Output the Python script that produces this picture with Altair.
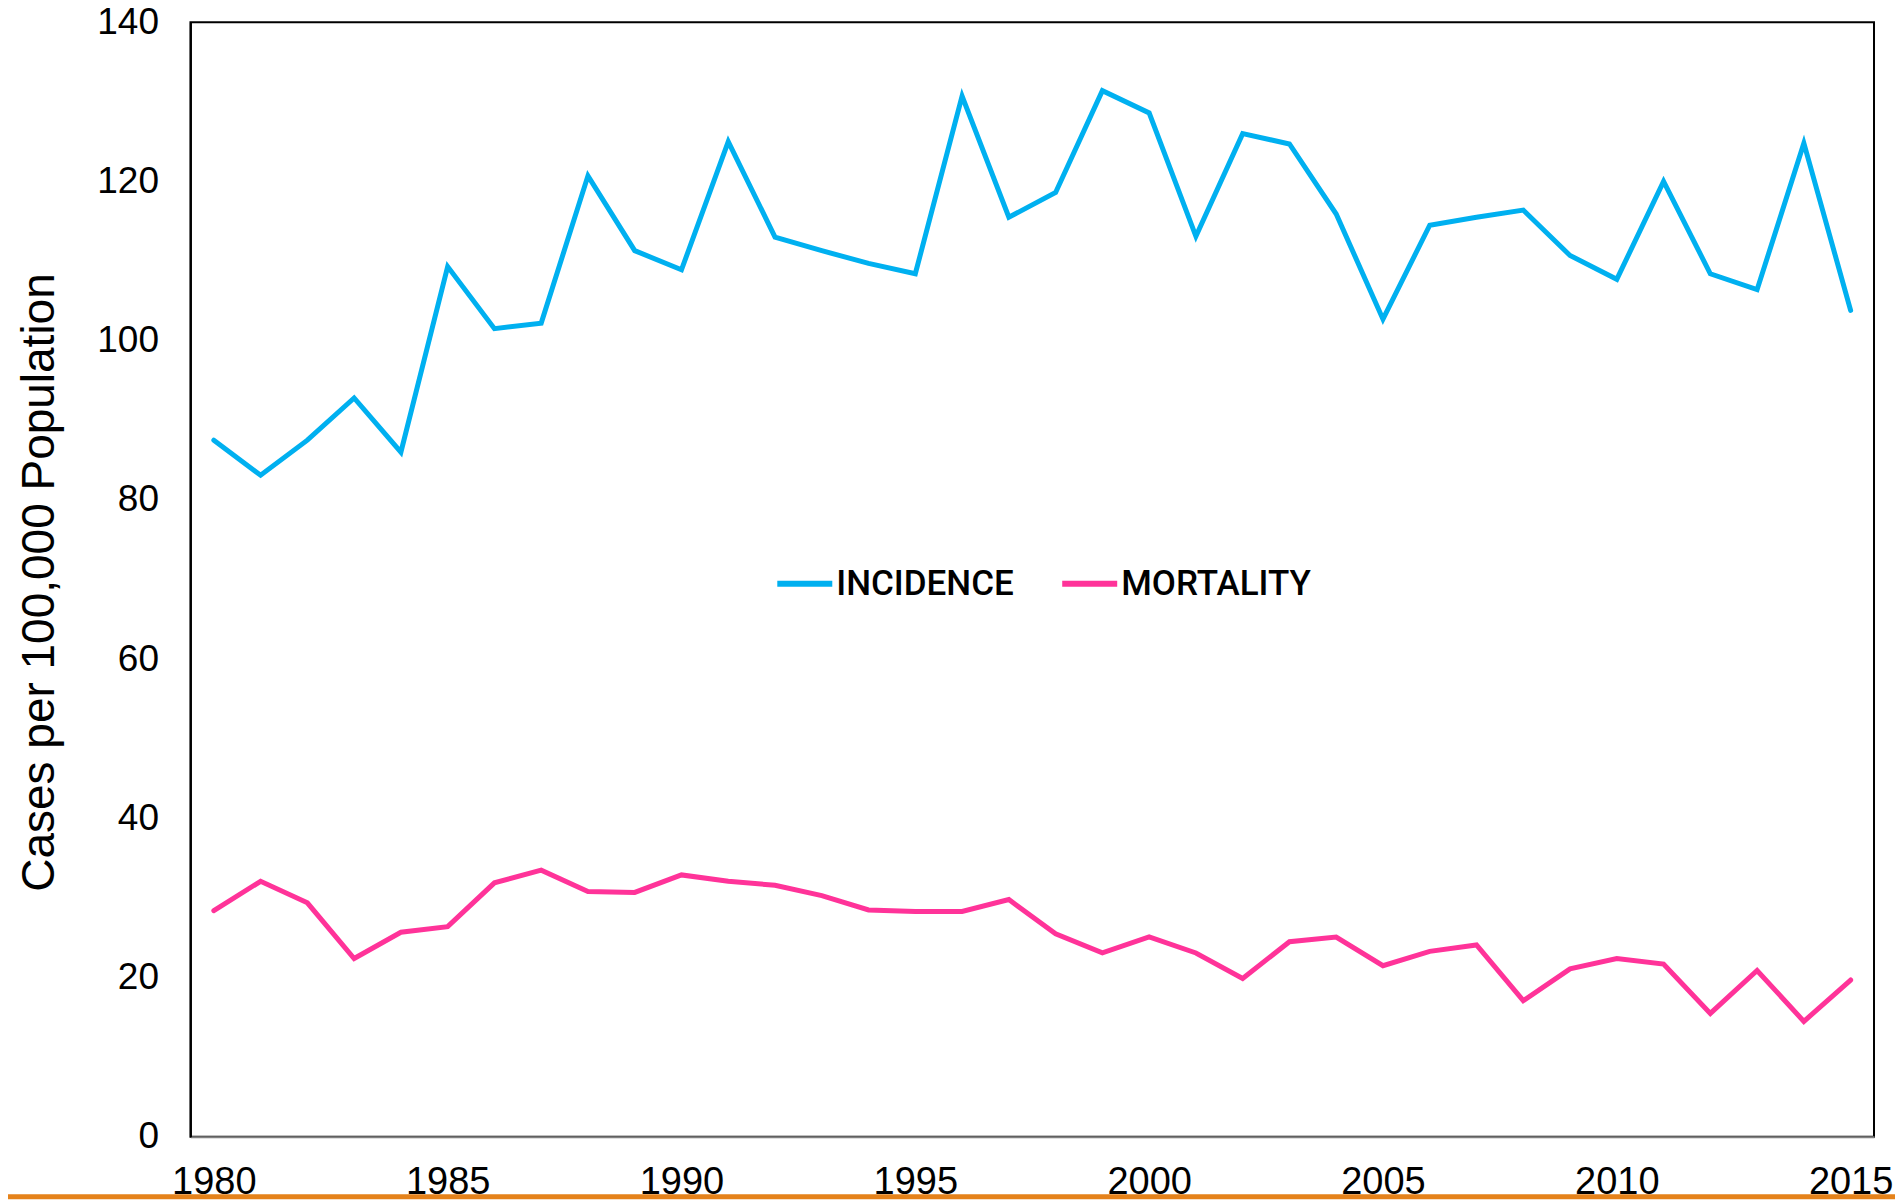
import altair as alt
import pandas as pd

years = list(range(1980, 2016))
incidence = [87.5, 83.1, 87.5, 92.8, 86.0, 109.3, 101.5, 102.2, 120.7, 111.3,
             108.9, 125.0, 113.0, 111.3, 109.7, 108.4, 130.7, 115.5, 118.6, 131.4,
             128.6, 113.1, 126.0, 124.7, 115.9, 102.7, 114.5, 115.5, 116.4, 110.7,
             107.7, 120.0, 108.4, 106.4, 124.8, 103.8]
mortality = [28.4, 32.1, 29.4, 22.4, 25.7, 26.4, 31.9, 33.5, 30.8, 30.7,
             32.9, 32.1, 31.6, 30.3, 28.5, 28.3, 28.3, 29.8, 25.5, 23.1,
             25.1, 23.1, 19.9, 24.5, 25.1, 21.5, 23.3, 24.1, 17.1, 21.1,
             22.4, 21.7, 15.5, 20.9, 14.5, 19.7]
series_names = ["INCIDENCE", "MORTALITY"]
series_colors = ["#00B0F0", "#FF3399"]
x_ticks = [1980, 1985, 1990, 1995, 2000, 2005, 2010, 2015]
y_ticks = [0, 20, 40, 60, 80, 100, 120, 140]

rows = []
for name, vals in zip(series_names, [incidence, mortality]):
    for yr, v in zip(years, vals):
        rows.append({"year": yr, "value": v, "series": name})
df = pd.DataFrame(rows)

W, H = 1684, 1115
FONT = "Liberation Sans, Arial, sans-serif"

lines = alt.Chart(df).mark_line(strokeWidth=5, strokeCap="round").encode(
    x=alt.X("year:Q",
            scale=alt.Scale(domain=[1979.5, 2015.5], nice=False, zero=False),
            axis=alt.Axis(values=x_ticks, format="d", title=None,
                          labelFont=FONT, labelFontSize=38, labelColor="black",
                          labelPadding=27, ticks=False, tickSize=0,
                          labelFlush=False, labelOverlap=False,
                          domainColor="#808080", domainWidth=2, grid=False)),
    y=alt.Y("value:Q",
            scale=alt.Scale(domain=[0, 140], nice=False),
            axis=alt.Axis(values=y_ticks, title="Cases per 100,000 Population",
                          titleFont=FONT, titleFontSize=46, titleFontWeight="normal",
                          titleColor="black", titleX=-151, titleY=560,
                          titleBaseline="middle", titleAlign="center", titleAngle=270,
                          labelFont=FONT, labelFontSize=37, labelColor="black",
                          labelPadding=32, ticks=False, tickSize=0,
                          domainColor="black", domainWidth=2, grid=False)),
    color=alt.Color("series:N",
                    scale=alt.Scale(domain=series_names, range=series_colors),
                    legend=alt.Legend(orient="none", legendX=584, legendY=531,
                                      direction="horizontal", title=None,
                                      symbolType="stroke", symbolSize=3025,
                                      symbolStrokeWidth=6,
                                      labelFont="Roboto, sans-serif",
                                      labelFontSize=35, labelFontWeight=500,
                                      labelColor="black", labelLimit=400,
                                      columnPadding=36, labelOffset=1, padding=0)),
)

orange = alt.Chart(pd.DataFrame({"k": [0]})).mark_rule(
    color="#E5821A", strokeWidth=5
).encode(x=alt.value(-183), x2=alt.value(1705), y=alt.value(1175))

chart = alt.layer(lines, orange).properties(
    width=W, height=H,
    padding={"left": 182.5, "top": 14, "right": 21, "bottom": 63},
    autosize=alt.AutoSizeParams(type="none"),
).configure_view(stroke="black", strokeWidth=2)

chart.save("out.html", embed_options={"renderer": "svg", "actions": False})
